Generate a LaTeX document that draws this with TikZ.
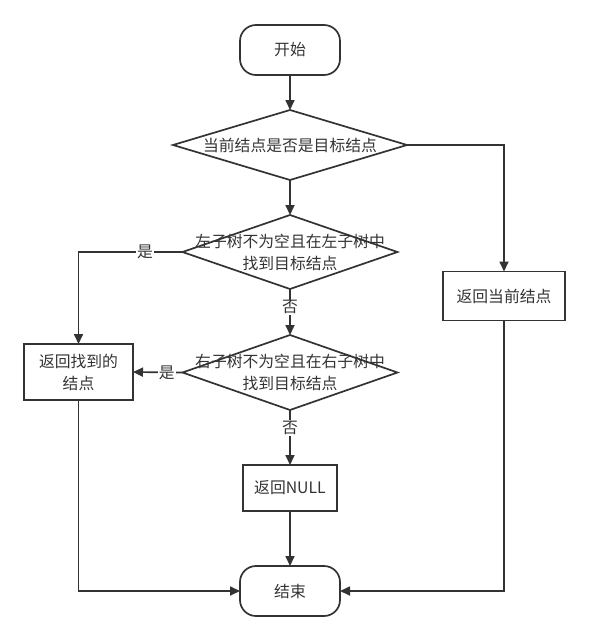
\documentclass[tikz,border=0pt]{standalone}
\usepackage{fontspec}
\setmainfont{Noto Sans CJK SC}
\usetikzlibrary{shapes.geometric,arrows.meta}
\definecolor{ink}{HTML}{333333}
\begin{document}
\begin{tikzpicture}[x=1pt,y=-1pt,
  every node/.style={font=\fontsize{15.8}{22}\selectfont, text=ink},
  term/.style={draw=ink, line width=1.7pt, rounded corners=16pt, minimum width=100pt, minimum height=50pt, inner sep=0pt, outer sep=0pt},
  procbox/.style={draw=ink, line width=1.7pt, inner sep=0pt, outer sep=0pt, align=center},
  decide/.style={draw=ink, line width=1.7pt, diamond, inner sep=0pt, outer sep=0pt},
  dtext/.style={align=center, inner sep=0pt},
  conn/.style={draw=ink, line width=1.7pt, -{Triangle[length=10pt,width=9pt]}},
  lab/.style={fill=white, inner sep=1pt}
]
\useasboundingbox (0,0) rectangle (590,640);
\node[term] (start) at (290,50) {开始};
\node[decide, minimum width=234pt, minimum height=70pt] (d1) at (290,145) {};
\node[dtext] (t1) at (290,145) {当前结点是否是目标结点};
\node[decide, minimum width=215pt, minimum height=74pt] (d2) at (290,252) {};
\node[dtext] (t2) at (290,252) {左子树不为空且在左子树中\\找到目标结点};
\node[decide, minimum width=215pt, minimum height=75pt] (d3) at (290,372.5) {};
\node[dtext] (t3) at (290,372.5) {右子树不为空且在右子树中\\找到目标结点};
\node[procbox, minimum width=109pt, minimum height=56pt] (found) at (78.5,372) {返回找到的\\结点};
\node[procbox, minimum width=122pt, minimum height=49pt] (cur) at (504,296) {返回当前结点};
\node[procbox, minimum width=94pt, minimum height=46pt] (null) at (290,488) {返回NULL};
\node[term] (end) at (290,591) {结束};

\draw[conn] (start.south) -- (d1.north);
\draw[conn] (d1.south) -- (d2.north);
\draw[conn] (d1.east) -| (cur.north);
\draw[conn] (d2.west) -| node[lab, pos=0.18] (l1) {是} (found.north);
\draw[conn] (d2.south) -- node[lab, pos=0.4] (l2) {否} (d3.north);
\draw[conn] (d3.west) -- node[lab, pos=0.32] (l3) {是} (found.east);
\draw[conn] (d3.south) -- node[lab, pos=0.33] (l4) {否} (null.north);
\draw[conn] (null.south) -- (end.north);
\draw[conn] (found.south) |- (end.west);
\draw[conn] (cur.south) |- (end.east);
\end{tikzpicture}
\end{document}
